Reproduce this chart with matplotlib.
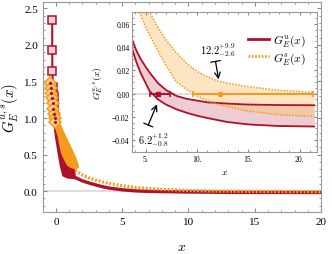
import matplotlib
matplotlib.use("Agg")
import matplotlib.pyplot as plt
from matplotlib.ticker import MultipleLocator, FuncFormatter

plt.rcParams['font.family'] = ['Liberation Serif', 'DejaVu Serif']
plt.rcParams['mathtext.fontset'] = 'cm'

red = "#b0102a"
orange = "#f49a1c"

# main panel: lattice points near x=0 (u squares, s diamonds)
u_sq_x = [-0.28, -0.28, -0.27, -0.22, -0.18, -0.15, -0.12, -0.1]
u_sq_y = [2.34, 1.93, 1.64, 1.42, 1.30, 1.20, 1.10, 1.02]
s_dia_x = [-0.45, -0.4, -0.35, -0.3, -0.25, -0.2, -0.15, -0.1, -0.05]
s_dia_y = [1.48, 1.41, 1.34, 1.27, 1.20, 1.13, 1.06, 1.00, 0.95]

# dense data region drawn as bands
u_band_x = [-0.25, -0.13, 0.08, 0.25, 0.45, 0.8, 1.2, 1.45]
u_band_lo = [0.95, 0.76, 0.53, 0.35, 0.21, 0.18, 0.17, 0.17]
u_band_hi = [1.00, 0.98, 0.90, 0.80, 0.68, 0.52, 0.38, 0.28]
s_band_x = [-0.3, 0.08, 0.33, 0.6, 0.83, 1.1, 1.33, 1.5, 1.7]
s_band_lo = [0.98, 0.76, 0.53, 0.42, 0.35, 0.32, 0.31, 0.30, 0.33]
s_band_hi = [1.00, 0.98, 0.92, 0.81, 0.72, 0.62, 0.53, 0.46, 0.35]

# main curves
u_x = [1.4, 1.7, 2.0, 2.5, 3.0, 3.5, 4.0, 5.0, 6.0, 7.0, 8.0, 10.0, 13.0, 16.0, 20.0]
u_y = [0.19, 0.165, 0.14, 0.11, 0.085, 0.06, 0.042, 0.018, 0.003, -0.004, -0.007,
       -0.012, -0.017, -0.018, -0.019]
s_x = [1.45, 2.0, 2.5, 3.0, 4.0, 5.0, 6.0, 7.0, 8.0, 10.0, 12.0, 15.0, 18.0, 20.0]
s_y = [0.28, 0.22, 0.18, 0.15, 0.105, 0.075, 0.05, 0.035, 0.024, 0.0085, 0.001,
       -0.0045, -0.0075, -0.009]

# inset bands
ins_u_x = [3.7, 4.1, 4.5, 5.0, 5.4, 6.2, 7.0, 8.0, 9.0, 10.0, 11.0, 13.0, 15.0, 17.8, 21.4]
ins_u_hi = [0.046, 0.037, 0.030, 0.023, 0.018, 0.009, 0.003, -0.002, -0.0045, -0.006,
            -0.0075, -0.0086, -0.0094, -0.0098, -0.010]
ins_u_lo = [0.038, 0.027, 0.018, 0.009, 0.002, -0.005, -0.0095, -0.0135, -0.0165,
            -0.019, -0.021, -0.0245, -0.0265, -0.0278, -0.0283]
ins_s_x = [4.4, 5.0, 5.4, 6.0, 7.0, 8.0, 9.0, 10.0, 11.0, 12.0, 13.0, 15.0, 17.8, 21.4]
ins_s_hi = [0.095, 0.078, 0.070, 0.060, 0.046, 0.035, 0.026, 0.019, 0.0145, 0.011,
            0.0088, 0.006, 0.003, 0.001]
ins_s_lo = [0.070, 0.057, 0.050, 0.040, 0.024, 0.010, 0.0035, -0.002, -0.006, -0.009,
            -0.0115, -0.015, -0.018, -0.0197]

# zero crossings
u_zero, u_err_lo, u_err_hi = 6.2, 0.8, 1.2
s_zero, s_err_lo, s_err_hi = 12.2, 2.6, 9.1  # upper bar drawn to end of curve

fig = plt.figure(figsize=(3.32, 2.55), dpi=100)
ax = fig.add_axes([0.1286, 0.1635, 0.8384, 0.8255])

ax.axhline(0, color="#d8d8d8", lw=1.2, zorder=0)

ax.fill_between(u_band_x, u_band_lo, u_band_hi, color=red, lw=0, zorder=2)
ax.plot(u_sq_x, u_sq_y, color=red, lw=1.5, zorder=3)
ax.plot(u_sq_x, u_sq_y, "s", ms=6, mfc="#f3d3d9", mec=red, mew=1.1, zorder=3)
ax.plot(u_x, u_y, color=red, lw=2.4, solid_capstyle="butt", zorder=3)

ax.fill_between(s_band_x, s_band_lo, s_band_hi, color=orange, lw=0, zorder=4)
ax.plot(s_dia_x, s_dia_y, "D", ms=6, mfc="#f9cf93", mec=orange, mew=1.1, zorder=4)
ax.plot(s_dia_x, s_dia_y, ".", ms=2.5, color=red, zorder=4)
ax.plot(s_x, s_y, color=orange, lw=2.3, linestyle=(0, (0.6, 0.55)), zorder=5)

ax.set_xlim(-1, 20)
ax.set_ylim(-0.29, 2.59)
ax.xaxis.set_major_locator(MultipleLocator(5))
ax.xaxis.set_minor_locator(MultipleLocator(1))
ax.yaxis.set_major_locator(MultipleLocator(0.5))
ax.yaxis.set_minor_locator(MultipleLocator(0.1))
ax.yaxis.set_major_formatter(FuncFormatter(lambda v, p: f"{v:.1f}"))
ax.tick_params(which="both", direction="in", top=True, right=True, color="#888888",
               labelsize=8)
ax.tick_params(which="major", length=3)
ax.tick_params(which="minor", length=1.5)
for s in ax.spines.values():
    s.set_color("#999999")
ax.set_xlabel(r"$x$", fontsize=10, labelpad=10)
ax.set_ylabel(r"$G_E^{u,s}(x)$", fontsize=10.5, labelpad=2)

# inset
ins = fig.add_axes([0.3985, 0.401, 0.557, 0.547])
ins.axhline(0, color="#d8d8d8", lw=1.2, zorder=0)
ins.fill_between(ins_u_x, ins_u_lo, ins_u_hi, color="#e3aab6", alpha=0.6, lw=0)
ins.plot(ins_u_x, ins_u_hi, color=red, lw=1.3)
ins.plot(ins_u_x, ins_u_lo, color=red, lw=1.3)
ins.fill_between(ins_s_x, ins_s_lo, ins_s_hi, color="#fbc57a", alpha=0.45, lw=0)
ins.plot(ins_s_x, ins_s_hi, color=orange, lw=1.1, linestyle=(0, (1, 1)))
ins.plot(ins_s_x, ins_s_lo, color=orange, lw=1.1, linestyle=(0, (1, 1)))

ins.errorbar([u_zero], [0], xerr=[[u_err_lo], [u_err_hi]], fmt="s", ms=2.5, color=red,
             lw=1.4, capsize=2.5, capthick=1.2, zorder=5)
ins.errorbar([s_zero], [0], xerr=[[s_err_lo], [s_err_hi]], fmt="o", ms=3, color=orange,
             lw=1.4, capsize=2.5, capthick=1.2, zorder=5)

arrow = dict(arrowstyle="]->, widthA=0.35, lengthA=0", color="black", lw=0.9,
             shrinkA=0, shrinkB=0)
ins.annotate("", xy=(12.1, 0.0123), xytext=(11.8, 0.0277), arrowprops=arrow)
ins.text(12.0, 0.038, r"$12.2^{+9.9}_{-2.6}$", fontsize=7.5, ha="center", va="center")
ins.annotate("", xy=(6.1, -0.0092), xytext=(5.25, -0.027), arrowprops=arrow)
ins.text(5.75, -0.039, r"$6.2^{+1.2}_{-0.8}$", fontsize=7.5, ha="center", va="center")

ins.plot([], [], color=red, lw=2.0, label=r"$G_E^u(x)$")
ins.plot([], [], color=orange, lw=2.0, linestyle=(0, (0.6, 0.6)), label=r"$G_E^s(x)$")
ins.legend(loc="upper right", bbox_to_anchor=(1.0, 0.93), frameon=False, fontsize=8.5,
           handlelength=1.8, handletextpad=0.4, labelspacing=0.2)

ins.set_xlim(3.7, 21.7)
ins.set_ylim(-0.05, 0.07)
ins.xaxis.set_major_locator(MultipleLocator(5))
ins.xaxis.set_minor_locator(MultipleLocator(1))
ins.yaxis.set_major_locator(MultipleLocator(0.02))
ins.yaxis.set_minor_locator(MultipleLocator(0.005))
ins.xaxis.set_major_formatter(FuncFormatter(lambda v, p: f"{v:.0f}."))
ins.yaxis.set_major_formatter(FuncFormatter(lambda v, p: f"{v:.2f}".replace("-", "\u2212")))
ins.tick_params(which="both", direction="in", top=True, right=True, color="#888888",
                labelsize=5.5, pad=2)
ins.tick_params(which="major", length=2.5)
ins.tick_params(which="minor", length=1.2)
for s in ins.spines.values():
    s.set_color("#999999")
ins.set_xlabel(r"$x$", fontsize=7, labelpad=3)
ins.set_ylabel(r"$G_E^{u,s}(x)$", fontsize=7, labelpad=4)

fig.savefig("out.png", dpi=100)
